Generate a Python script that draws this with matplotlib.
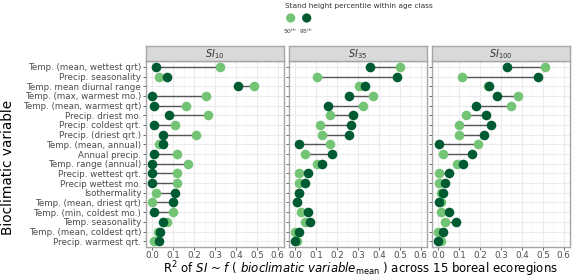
import matplotlib
matplotlib.use('Agg')
import matplotlib.pyplot as plt
import numpy as np

plt.rcParams['mathtext.fontset'] = 'dejavusans'

# Bioclimatic variables, top to bottom
variables = ['Temp. (mean, wettest qrt)', 'Precip. seasonality', 'Temp. mean diurnal range',
             'Temp. (max, warmest mo.)', 'Temp. (mean, warmest qrt)', 'Precip. driest mo.',
             'Precip. coldest qrt.', 'Precip. (driest qrt.)', 'Temp. (mean, annual)',
             'Annual precip.', 'Temp. range (annual)', 'Precip. wettest qrt.',
             'Precip wettest mo.', 'Isothermality', 'Temp. (mean, driest qrt)',
             'Temp. (min, coldest mo.)', 'Temp. seasonality', 'Temp. (mean, coldest qrt)',
             'Precip. warmest qrt.']

panels = ['10', '35', '100']

# R2 values, 50th percentile (light) and 95th percentile (dark)
si10_p50 = [0.325, 0.03, 0.485, 0.255, 0.16, 0.265, 0.108, 0.21, 0.03, 0.12,
            0.17, 0.12, 0.12, 0.02, 0.0, 0.10, 0.07, 0.025, 0.006]
si10_p95 = [0.02, 0.07, 0.41, 0.0, 0.01, 0.08, 0.01, 0.05, 0.05, 0.01,
            0.0, 0.0, 0.0, 0.108, 0.10, 0.01, 0.05, 0.038, 0.03]
si35_p50 = [0.50, 0.106, 0.305, 0.372, 0.323, 0.167, 0.117, 0.127, 0.167, 0.048,
            0.106, 0.019, 0.019, 0.017, 0.008, 0.028, 0.048, 0.0, 0.01]
si35_p95 = [0.356, 0.485, 0.334, 0.258, 0.156, 0.275, 0.266, 0.258, 0.019, 0.177,
            0.127, 0.06, 0.048, 0.019, 0.01, 0.06, 0.069, 0.019, 0.0]
si100_p50 = [0.51, 0.114, 0.24, 0.38, 0.348, 0.131, 0.10, 0.10, 0.19, 0.023,
             0.09, 0.003, 0.003, 0.012, 0.012, 0.012, 0.033, 0.0, 0.012]
si100_p95 = [0.331, 0.478, 0.242, 0.281, 0.181, 0.23, 0.25, 0.22, 0.003, 0.16,
             0.12, 0.053, 0.033, 0.023, 0.003, 0.053, 0.083, 0.023, 0.0]

p50_all = [si10_p50, si35_p50, si100_p50]
p95_all = [si10_p95, si35_p95, si100_p95]

light = '#74c476'
dark = '#005a32'
W, H = 575, 278


def box(x0, y0, x1, y1):
    return [x0 / W, 1 - y1 / H, (x1 - x0) / W, (y1 - y0) / H]


fig = plt.figure(figsize=(5.75, 2.78), dpi=100)
ypos = np.arange(len(variables))

for i, x0 in enumerate([146, 289, 432]):
    ax = fig.add_axes(box(x0, 61, x0 + 138, 247))
    p50 = p50_all[i]
    p95 = p95_all[i]
    ax.hlines(ypos, p50, p95, color='#555555', linewidth=1.0, zorder=2)
    ax.scatter(p50, ypos, s=48, color=light, zorder=3, linewidths=0)
    ax.scatter(p95, ypos, s=48, color=dark, zorder=4, linewidths=0)

    ax.set_xlim(-0.03, 0.63)
    ax.set_ylim(len(variables) - 0.4, -0.6)
    ax.set_xticks(np.arange(0, 0.61, 0.1))
    ax.set_xticks(np.arange(0.05, 0.6, 0.1), minor=True)
    ax.set_xticklabels(['%.1f' % v for v in np.arange(0, 0.61, 0.1)])
    ax.set_yticks(ypos)
    if i == 0:
        ax.set_yticklabels(variables)
    else:
        ax.set_yticklabels([])
        ax.tick_params(axis='y', length=0)
    ax.grid(True, which='major', color='#ebebeb', linewidth=0.8, zorder=0)
    ax.grid(True, which='minor', axis='x', color='#f3f3f3', linewidth=0.5, zorder=0)
    ax.set_axisbelow(True)
    ax.tick_params(axis='both', which='major', labelsize=6.3, colors='#4d4d4d',
                   length=2, width=0.6, pad=1.5)
    ax.tick_params(axis='x', which='major', pad=0.8)
    ax.tick_params(axis='x', which='minor', length=0)
    for sp in ax.spines.values():
        sp.set_color('#a6a6a6')
        sp.set_linewidth(1.0)

    # facet strip
    st = fig.add_axes(box(x0, 46, x0 + 138, 61))
    st.set_facecolor('#d9d9d9')
    st.set_xticks([])
    st.set_yticks([])
    for sp in st.spines.values():
        sp.set_color('#a6a6a6')
        sp.set_linewidth(1.0)
    st.text(0.5, 0.45, r'$\mathit{SI}_{%s}$' % panels[i], ha='center', va='center',
            fontsize=7, color='#333333', transform=st.transAxes)

# legend
fig.text(285 / W, 1 - 6 / H, 'Stand height percentile within age class',
         fontsize=5.3, color='#333333', va='center', ha='left')
lg = fig.add_axes(box(280, 10, 320, 36))
lg.axis('off')
lg.set_xlim(0, 40)
lg.set_ylim(26, 0)
lg.scatter([10.7, 26.7], [8, 8], s=44, color=[light, dark], linewidths=0)
lg.text(10.0, 21, r'50$^{th}$', fontsize=4.3, ha='center', va='center', color='#333333')
lg.text(26.0, 21, r'95$^{th}$', fontsize=4.3, ha='center', va='center', color='#333333')

fig.text(8 / W, 1 - 167 / H, 'Bioclimatic variable', rotation=90, fontsize=9.8,
         ha='center', va='center', color='black')
fig.text(360 / W, 1 - 269 / H,
         r'R$^2$ of $\mathit{SI}$ ~ $f$ ( $\mathit{bioclimatic\ variable}_{\mathrm{mean}}$ ) across 15 boreal ecoregions',
         fontsize=8.5, ha='center', va='center', color='black')

fig.savefig('out.png', dpi=100)
